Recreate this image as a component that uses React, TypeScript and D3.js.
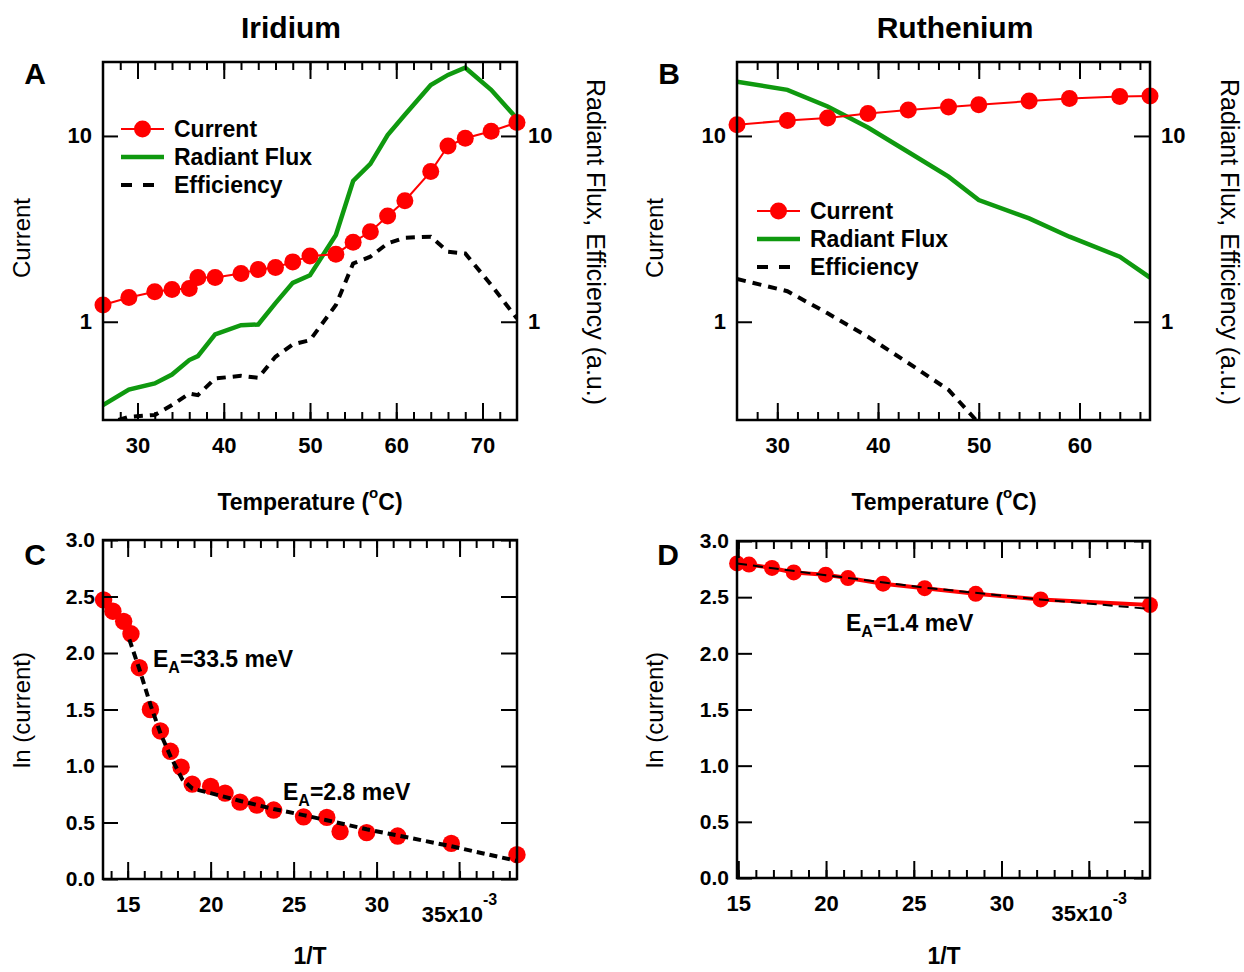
import React, { useRef, useEffect } from 'react';
import * as d3 from 'd3';

const FONT = 'Liberation Sans, Arial, Helvetica, sans-serif';

// Panel A (Iridium) - temperature sweep
const tempA = [26, 29, 32, 34, 36, 37, 39, 42, 44, 46, 48, 50, 53, 55, 57, 59, 61, 64, 66, 68, 71, 74];
const currentA = [1.23, 1.35, 1.45, 1.49, 1.51, 1.73, 1.73, 1.82, 1.91, 1.96, 2.1, 2.26, 2.31, 2.68, 3.05, 3.71, 4.48, 6.43, 8.83, 9.71, 10.6, 11.8];
const fluxA = [0.356, 0.432, 0.466, 0.52, 0.622, 0.653, 0.855, 0.959, 0.967, 1.26, 1.62, 1.78, 2.93, 5.72, 7.07, 10.1, 13.0, 18.8, 21.3, 23.3, 17.7, 12.4];
const effA = [0.28, 0.308, 0.315, 0.356, 0.411, 0.403, 0.495, 0.512, 0.499, 0.648, 0.755, 0.796, 1.23, 2.06, 2.24, 2.64, 2.83, 2.87, 2.38, 2.33, 1.58, 1.04];

// Panel B (Ruthenium) - temperature sweep
const tempB = [26, 31, 35, 39, 43, 47, 50, 55, 59, 64, 67];
const currentB = [11.5, 12.1, 12.5, 13.2, 13.8, 14.3, 14.7, 15.4, 15.9, 16.3, 16.4];
const fluxB = [19.6, 17.7, 14.4, 11.1, 8.2, 6.04, 4.52, 3.6, 2.87, 2.24, 1.73];
const tempEffB = [26, 31, 35, 39, 43, 47, 50];
const effB = [1.7, 1.46, 1.11, 0.83, 0.6, 0.43, 0.285];

// Panel C - Arrhenius plot, Iridium (1/T in 1e-3)
const invTC = [13.55, 14.11, 14.76, 15.2, 15.7, 16.37, 16.97, 17.58, 18.22, 18.89, 20.0, 20.87, 21.77, 22.78, 23.8, 25.6, 27.0, 27.8, 29.4, 31.27, 34.5, 38.46];
const lnC = [2.47, 2.37, 2.28, 2.17, 1.87, 1.5, 1.31, 1.13, 0.99, 0.84, 0.82, 0.76, 0.68, 0.655, 0.61, 0.55, 0.545, 0.42, 0.41, 0.38, 0.315, 0.215];
const fitInvTC = [15.1, 15.7, 16.4, 17.0, 17.6, 18.3, 18.9, 20.0, 21.8, 23.8, 25.6, 27.0, 29.4, 31.3, 34.5, 38.46];
const fitLnC = [2.12, 1.86, 1.53, 1.28, 1.08, 0.88, 0.8, 0.76, 0.69, 0.62, 0.565, 0.52, 0.44, 0.385, 0.29, 0.16];

// Panel D - Arrhenius plot, Ruthenium
const invTD = [14.93, 15.61, 16.92, 18.16, 19.98, 21.25, 23.25, 25.62, 28.53, 32.23, 38.46];
const lnD = [2.8, 2.79, 2.76, 2.72, 2.7, 2.67, 2.62, 2.58, 2.53, 2.48, 2.43];
const fitInvTD = [14.93, 20.0, 25.6, 32.2, 38.46];
const fitLnD = [2.8, 2.695, 2.585, 2.48, 2.395];

const legendLabels = ['Current', 'Radiant Flux', 'Efficiency'];
const lnTicks = [0, 0.5, 1, 1.5, 2, 2.5, 3];
const invTLabelTicks = [15, 20, 25, 30];

const RED = '#ff0000';
const GREEN = '#0f990f';

function styleAxis(sel, size = 22) {
  sel.select('.domain').remove();
  sel.selectAll('.tick line').attr('stroke', '#000').attr('stroke-width', 2);
  sel.selectAll('.tick text')
    .attr('font-family', FONT)
    .attr('font-size', size)
    .attr('font-weight', 'bold')
    .attr('fill', '#000');
}

function drawFrame(g, x, y, w, h, cfg) {
  const blank = () => '';
  // minor x ticks top & bottom
  styleAxis(g.append('g').attr('transform', `translate(0,${h})`)
    .call(d3.axisBottom(x).tickValues(cfg.xMinor).tickSize(-8).tickFormat(blank)));
  styleAxis(g.append('g')
    .call(d3.axisTop(x).tickValues(cfg.xMinor).tickSize(-8).tickFormat(blank)));
  // major x ticks
  styleAxis(g.append('g').attr('transform', `translate(0,${h})`)
    .call(d3.axisBottom(x).tickValues(cfg.xMajor).tickSize(-17).tickPadding(17).tickFormat(d3.format('d'))));
  styleAxis(g.append('g')
    .call(d3.axisTop(x).tickValues(cfg.xMajorAll || cfg.xMajor).tickSize(-17).tickFormat(blank)));
  // y ticks left & right
  styleAxis(g.append('g')
    .call(d3.axisLeft(y).tickValues(cfg.yTicks).tickSize(-15).tickPadding(cfg.yPad).tickFormat(cfg.yFormat)), cfg.ySize);
  styleAxis(g.append('g').attr('transform', `translate(${w},0)`)
    .call(d3.axisRight(y).tickValues(cfg.yTicks).tickSize(-16).tickPadding(cfg.yPad)
      .tickFormat(cfg.rightLabels ? cfg.yFormat : blank)), cfg.ySize);
  g.append('rect').attr('width', w).attr('height', h)
    .attr('fill', 'none').attr('stroke', '#000').attr('stroke-width', 2.5);
}

function addText(svg, x, y, txt, opts: any = {}) {
  const t = svg.append('text')
    .attr('x', x).attr('y', y)
    .attr('font-family', FONT)
    .attr('font-size', opts.size || 24)
    .attr('font-weight', opts.weight || 'bold')
    .attr('text-anchor', opts.anchor || 'middle')
    .attr('fill', '#000');
  if (opts.rotate) {
    t.attr('x', 0).attr('y', 0).attr('dy', '0.35em')
      .attr('transform', `translate(${x},${y}) rotate(${opts.rotate})`);
  }
  t.text(txt);
  return t;
}

function drawTempPanel(svg, box, id, temps, cur, flux, tEff, eff, xDomain, xMinor, legend) {
  const x = d3.scaleLinear().domain(xDomain).range([0, box.w]);
  const y = d3.scaleLog().domain([0.296, 25]).range([box.h, 0]);
  const g = svg.append('g').attr('transform', `translate(${box.x},${box.y})`);

  g.append('clipPath').attr('id', id).append('rect').attr('width', box.w).attr('height', box.h);

  const line = d3.line<number>().x((d, i) => x(temps[i])).y(d => y(d));
  const lineEff = d3.line<number>().x((d, i) => x(tEff[i])).y(d => y(d));

  g.append('path').datum(flux).attr('d', line).attr('fill', 'none')
    .attr('stroke', GREEN).attr('stroke-width', 4.5).attr('clip-path', `url(#${id})`);
  g.append('path').datum(eff).attr('d', lineEff).attr('fill', 'none')
    .attr('stroke', '#000').attr('stroke-width', 4).attr('stroke-dasharray', '9,7')
    .attr('clip-path', `url(#${id})`);

  g.append('path').datum(cur).attr('d', line).attr('fill', 'none')
    .attr('stroke', RED).attr('stroke-width', 2);
  g.selectAll('circle.cur').data(cur).enter().append('circle')
    .attr('class', 'cur')
    .attr('cx', (d, i) => x(temps[i])).attr('cy', d => y(d)).attr('r', 8.5).attr('fill', RED);

  drawFrame(g, x, y, box.w, box.h, {
    xMinor,
    xMajor: d3.range(30, xDomain[1], 10),
    yTicks: [1, 10],
    yFormat: d3.format('d'),
    yPad: 11,
    ySize: 22,
    rightLabels: true,
  });

  // legend
  legendLabels.forEach((lab, i) => {
    const ly = legend.y + i * 28;
    const lg = svg.append('g');
    if (i === 0) {
      lg.append('line').attr('x1', legend.x).attr('x2', legend.x + 43).attr('y1', ly).attr('y2', ly)
        .attr('stroke', RED).attr('stroke-width', 2);
      lg.append('circle').attr('cx', legend.x + 21.5).attr('cy', ly).attr('r', 8.5).attr('fill', RED);
    } else if (i === 1) {
      lg.append('line').attr('x1', legend.x).attr('x2', legend.x + 43).attr('y1', ly).attr('y2', ly)
        .attr('stroke', GREEN).attr('stroke-width', 4.5);
    } else {
      lg.append('line').attr('x1', legend.x).attr('x2', legend.x + 43).attr('y1', ly).attr('y2', ly)
        .attr('stroke', '#000').attr('stroke-width', 4).attr('stroke-dasharray', '11,11');
    }
    addText(svg, legend.x + 53, ly, lab, { anchor: 'start', size: 23 }).attr('dy', '0.35em');
  });
}

function drawArrheniusPanel(svg, box, xDomain, xMinor, inv, ln, fitX, fitY, connect) {
  const x = d3.scaleLinear().domain(xDomain).range([0, box.w]);
  const y = d3.scaleLinear().domain([0, 3]).range([box.h, 0]);
  const g = svg.append('g').attr('transform', `translate(${box.x},${box.y})`);

  if (connect) {
    g.append('path').datum(ln)
      .attr('d', d3.line<number>().x((d, i) => x(inv[i])).y(d => y(d)))
      .attr('fill', 'none').attr('stroke', RED).attr('stroke-width', 4);
  }
  g.selectAll('circle.pt').data(ln).enter().append('circle')
    .attr('class', 'pt')
    .attr('cx', (d, i) => x(inv[i])).attr('cy', d => y(d))
    .attr('r', connect ? 8 : 8.7).attr('fill', RED);

  g.append('path').datum(fitY)
    .attr('d', d3.line<number>().x((d, i) => x(fitX[i])).y(d => y(d)))
    .attr('fill', 'none').attr('stroke', '#000')
    .attr('stroke-width', connect ? 2 : 4)
    .attr('stroke-dasharray', connect ? '10,6' : '8,5');

  drawFrame(g, x, y, box.w, box.h, {
    xMinor,
    xMajor: invTLabelTicks,
    xMajorAll: invTLabelTicks.concat([35]),
    yTicks: lnTicks,
    yFormat: d3.format('.1f'),
    yPad: 8,
    ySize: 21,
    rightLabels: false,
  });
  // 35 tick on bottom with a scaled label
  g.append('line').attr('x1', x(35)).attr('x2', x(35)).attr('y1', box.h).attr('y2', box.h - 17)
    .attr('stroke', '#000').attr('stroke-width', 2);
  const t = addText(svg, box.x + x(35), box.y + box.h + 43, '35x10', { size: 22 });
  t.append('tspan').attr('dy', -17).attr('font-size', 16).text('-3');
}

function App() {
  const svgRef = useRef<SVGSVGElement>(null);

  useEffect(() => {
    const svg = d3.select(svgRef.current);
    svg.selectAll('*').remove();

    // titles and panel letters
    addText(svg, 291, 38, 'Iridium', { size: 30 });
    addText(svg, 955, 38, 'Ruthenium', { size: 30 });
    addText(svg, 35, 84, 'A', { size: 30 });
    addText(svg, 669, 84, 'B', { size: 30 });
    addText(svg, 35, 565, 'C', { size: 30 });
    addText(svg, 668, 565, 'D', { size: 30 });

    drawTempPanel(svg, { x: 103, y: 62, w: 414, h: 358 }, 'clipA',
      tempA, currentA, fluxA, tempA, effA, [26, 74], d3.range(28, 74, 2), { x: 121, y: 129 });
    drawTempPanel(svg, { x: 737, y: 62, w: 413, h: 358 }, 'clipB',
      tempB, currentB, fluxB, tempEffB, effB, [26, 67], d3.range(28, 67, 2), { x: 757, y: 211 });

    drawArrheniusPanel(svg, { x: 103, y: 540, w: 414, h: 339 }, [1000 / 74, 1000 / 26],
      d3.range(14, 39, 1), invTC, lnC, fitInvTC, fitLnC, false);
    drawArrheniusPanel(svg, { x: 737, y: 541, w: 413, h: 337 }, [1000 / 67, 1000 / 26],
      d3.range(15, 39, 1), invTD, lnD, fitInvTD, fitLnD, true);

    // axis titles
    [310, 944].forEach(cx => {
      const t = addText(svg, cx, 510, 'Temperature (', { size: 23 });
      t.append('tspan').attr('dy', -12).attr('font-size', 15).text('o');
      t.append('tspan').attr('dy', 12).text('C)');
      addText(svg, cx, 964, '1/T', { size: 23 });
    });
    addText(svg, 22, 238, 'Current', { size: 24, weight: 'normal', rotate: -90 });
    addText(svg, 655, 238, 'Current', { size: 24, weight: 'normal', rotate: -90 });
    addText(svg, 596, 242, 'Radiant Flux, Efficiency (a.u.)', { size: 25, weight: 'normal', rotate: 90 });
    addText(svg, 1230, 242, 'Radiant Flux, Efficiency (a.u.)', { size: 25, weight: 'normal', rotate: 90 });
    addText(svg, 22, 710, 'ln (current)', { size: 24, weight: 'normal', rotate: -90 });
    addText(svg, 655, 710, 'ln (current)', { size: 24, weight: 'normal', rotate: -90 });

    // activation energy annotations
    const ea = (x0, y0, val) => {
      const t = addText(svg, x0, y0, 'E', { size: 23, anchor: 'start' });
      t.append('tspan').attr('dy', 6).attr('font-size', 16).text('A');
      t.append('tspan').attr('dy', -6).text(`=${val} meV`);
    };
    ea(153, 667, '33.5');
    ea(283, 800, '2.8');
    ea(846, 631, '1.4');
  }, []);

  return (
    <svg ref={svgRef} width={1244} height={972}
      style={{ position: 'absolute', left: 0, top: 0, background: '#fff' }} />
  );
}

export default App;
